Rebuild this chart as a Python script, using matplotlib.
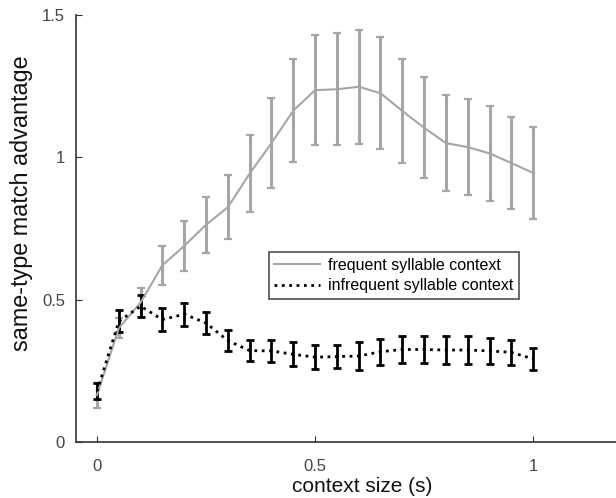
import numpy as np
import matplotlib
matplotlib.use('Agg')
import matplotlib.pyplot as plt

# context size (s)
ctx = [0.0, 0.05, 0.1, 0.15, 0.2, 0.25, 0.3, 0.35, 0.4, 0.45, 0.5,
       0.55, 0.6, 0.65, 0.7, 0.75, 0.8, 0.85, 0.9, 0.95, 1.0]

# frequent syllable context
freq_mean = [0.165, 0.40, 0.49, 0.621, 0.689, 0.763, 0.825, 0.943, 1.050, 1.164, 1.236,
             1.239, 1.248, 1.225, 1.163, 1.104, 1.050, 1.036, 1.014, 0.980, 0.945]
freq_err = [0.044, 0.035, 0.05, 0.068, 0.088, 0.099, 0.112, 0.134, 0.158, 0.18, 0.194,
            0.197, 0.2, 0.196, 0.184, 0.177, 0.169, 0.168, 0.167, 0.163, 0.16]

# infrequent syllable context
infreq_mean = [0.178, 0.424, 0.477, 0.43, 0.449, 0.418, 0.356, 0.321, 0.32, 0.308, 0.298,
               0.30, 0.302, 0.317, 0.325, 0.325, 0.323, 0.323, 0.32, 0.315, 0.292]
infreq_err = [0.028, 0.038, 0.038, 0.041, 0.04, 0.038, 0.038, 0.038, 0.04, 0.042, 0.041,
              0.041, 0.048, 0.046, 0.047, 0.047, 0.048, 0.048, 0.046, 0.043, 0.039]

plt.rcParams['font.family'] = ['Liberation Sans', 'DejaVu Sans']

fig = plt.figure(figsize=(6.16, 4.98), dpi=100)
ax = fig.add_axes([76 / 616, 56 / 498, 540 / 616, 427 / 498])

gray = '#a6a6a6'
ax.errorbar(ctx, freq_mean, yerr=freq_err, color=gray, lw=1.5, elinewidth=2.2,
            capsize=3, capthick=1.6, label='frequent syllable context')
ax.errorbar(ctx, infreq_mean, yerr=infreq_err, color='black', lw=2, ls=':',
            elinewidth=2, capsize=3, capthick=2,
            label='infrequent syllable context')

ax.set_xlim(-0.0482, 1.19)
ax.set_ylim(0, 1.5)
ax.set_xticks([0, 0.5, 1])
ax.set_xticklabels(['0', '0.5', '1'])
ax.set_yticks([0, 0.5, 1, 1.5])
ax.set_yticklabels(['0', '0.5', '1', '1.5'])
ax.tick_params(direction='in', length=4, labelsize=12, labelcolor='#444444',
               color='#333333')
ax.tick_params(axis='x', pad=12)
ax.tick_params(axis='y', pad=8)
for s in ['top', 'right']:
    ax.spines[s].set_visible(False)
for s in ['left', 'bottom']:
    ax.spines[s].set_color('#333333')
    ax.spines[s].set_linewidth(1.2)

ax.set_xlabel('context size (s)', fontsize=15, color='#111111')
ax.set_ylabel('same-type match advantage', fontsize=16.8, color='#111111')
ax.xaxis.set_label_coords(0.53, -0.082)
ax.yaxis.set_label_coords(-0.0796, 0.56)

handles, labels = ax.get_legend_handles_labels()
handles = [h[0] for h in handles]
leg = ax.legend(handles, labels, loc='center', bbox_to_anchor=(394 / 616, 1 - 275.5 / 498),
                bbox_transform=fig.transFigure, fontsize=11.5, frameon=True,
                fancybox=False, edgecolor='#222222', handlelength=2.9,
                borderpad=0.35, labelspacing=0.35, handletextpad=0.5)
leg.get_frame().set_linewidth(1.2)

fig.savefig('out.png', dpi=100)
